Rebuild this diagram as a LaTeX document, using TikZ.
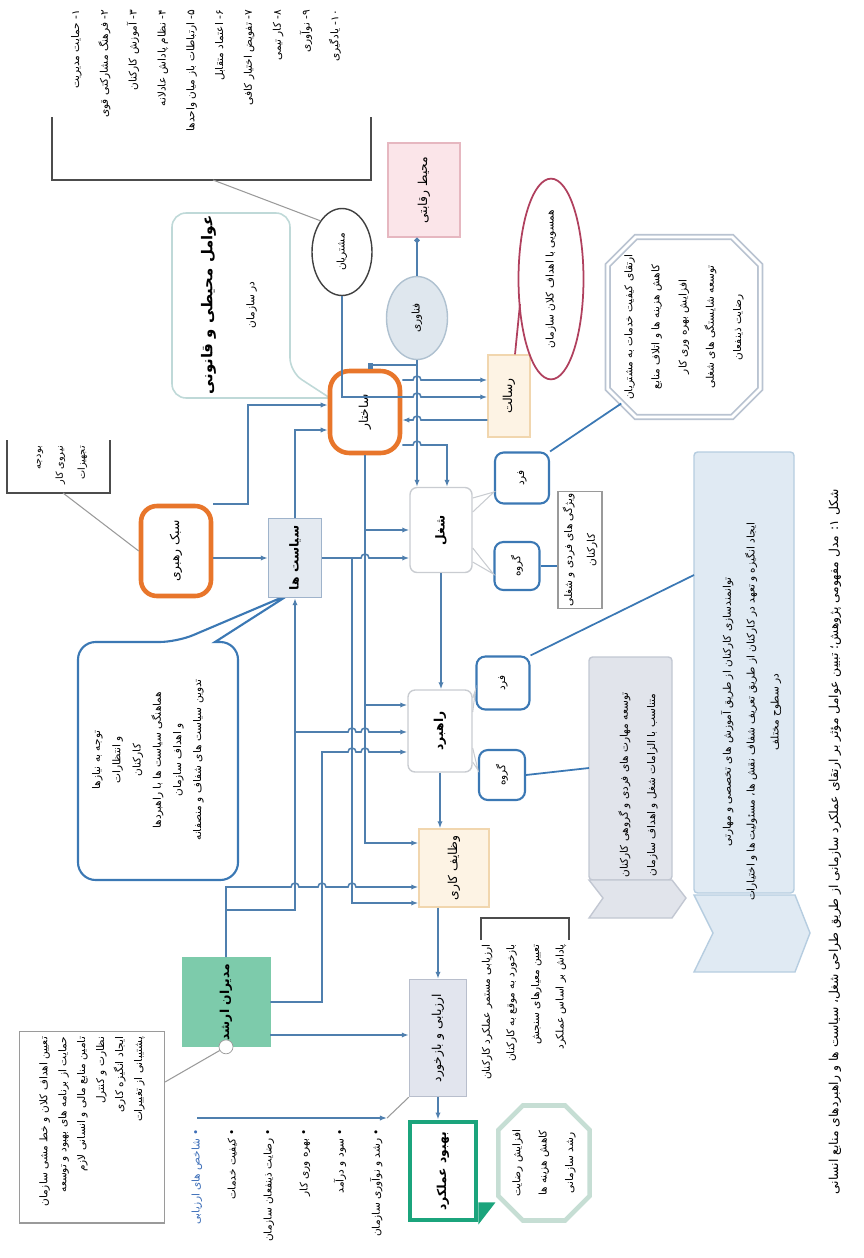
\documentclass[tikz,border=0pt]{standalone}
\usepackage{fontspec}
\newfontfamily\farsi[Script=Arabic]{DejaVu Sans}
\TeXXeTstate=1
\usetikzlibrary{arrows.meta,shapes.geometric,shapes.misc,calc}
\newcommand{\fa}[1]{\beginR #1\endR}

\definecolor{lineC}{HTML}{4F7FAE}
\definecolor{orangeC}{HTML}{E8762B}
\definecolor{sFill}{HTML}{E4EAF1}
\definecolor{sDraw}{HTML}{9FB3CB}
\definecolor{grayD}{HTML}{C9CCD1}
\definecolor{creamF}{HTML}{FDF3E4}
\definecolor{creamD}{HTML}{F1D6AE}
\definecolor{qFill}{HTML}{E2E5EE}
\definecolor{qDraw}{HTML}{B8BECC}
\definecolor{pinkF}{HTML}{FBE5E9}
\definecolor{pinkD}{HTML}{E6B7C0}
\definecolor{ellF}{HTML}{DFE7EE}
\definecolor{ellD}{HTML}{AFC1D0}
\definecolor{redD}{HTML}{B0405E}
\definecolor{octD}{HTML}{B9C3D1}
\definecolor{gD}{HTML}{3B78B4}
\definecolor{grF}{HTML}{7DCBAB}
\definecolor{finD}{HTML}{1BA47C}
\definecolor{ocD}{HTML}{C6DED4}
\definecolor{lbF}{HTML}{E0EAF3}
\definecolor{lbD}{HTML}{B6CDE0}
\definecolor{gbF}{HTML}{E1E4EB}
\definecolor{gbD}{HTML}{C2C7D2}
\definecolor{tcD}{HTML}{BFD9D8}
\definecolor{noteD}{HTML}{9A9A9A}
\definecolor{bulB}{HTML}{3E6FB8}

\begin{document}
\begin{tikzpicture}[x=0.02cm, y=-0.02cm,
    txt/.style={rotate=90, font=\farsi\fontsize{6}{8}\selectfont, align=center, inner sep=1pt},
    box/.style={txt, draw=#1, line width=0.8pt},
    big/.style={font=\farsi\bfseries\fontsize{7}{9}\selectfont},
    gbox/.style={box=gD, line width=1.2pt, rounded corners=5pt, fill=white},
    conn/.style={draw=lineC, line width=0.9pt},
    arr/.style={conn, -{Latex[length=4pt,width=3pt]}},
    rarr/.style={conn, {Latex[length=4pt,width=3pt]}-},
    lead/.style={draw=noteD, line width=0.6pt},
    hop/.style 2 args={insert path={-- (#1-4,#2) arc[start angle=180,end angle=360,radius=4]}}]

    % کادر
    \useasboundingbox (0,0) rectangle (864,1258);

    % فهرست بالا
    \draw[black!70, line width=0.7pt] (52,117) -- (52,180) -- (371,180) -- (371,117);
    \coordinate (br0) at (213,180);
    \node[txt, anchor=east, align=right, font=\farsi\fontsize{6}{16.4}\selectfont] (lst0) at (206,8)
        {\fa{۱- حمایت مدیریت}\\\fa{۲- فرهنگ مشارکتی قوی}\\\fa{۳- آموزش کارکنان}\\\fa{۴- نظام پاداش عادلانه}\\
         \fa{۵- ارتباطات باز میان واحدها}\\\fa{۶- اعتماد متقابل}\\\fa{۷- تفویض اختیار کافی}\\\fa{۸- کار تیمی}\\
         \fa{۹- نوآوری}\\\fa{۱۰- یادگیری}};

    % کادر توضیح بالا
    \draw[tcD, line width=0.9pt, fill=white, rounded corners=8pt] (172,300) -- (172,213) -- (290,213) -- (290,372)
        [sharp corners] -- (330,398) [rounded corners=8pt] -- (172,398) -- cycle;
    \node[txt] (tc) at (229,305) {{\bfseries\fontsize{8.5}{10}\selectfont\fa{عوامل محیطی و قانونی}}\\[16pt]\fa{در سازمان}};

    % فراخوان آبی
    \draw[gD, line width=1.2pt, fill=white, rounded corners=10pt] (78,760) -- (78,642) -- (177,642)
        [sharp corners] -- (290,594) -- (215,642) [rounded corners=10pt] -- (238,642) -- (238,880) -- (78,880) -- cycle;
    \node[txt, font=\farsi\fontsize{6}{11.5}\selectfont] (cbt) at (148,760)
        {\fa{توجه به نیازها}\\\fa{و انتظارات}\\\fa{کارکنان}\\\fa{هماهنگی سیاست ها با راهبردها}\\\fa{و اهداف سازمان}\\\fa{تدوین سیاست های شفاف و منصفانه}};

    % نوارهای سمت راست
    \draw[lbD, fill=lbF, line width=0.8pt, rounded corners=2pt] (694,893) -- (694,452) -- (794,452) -- (794,893) -- cycle;
    \draw[lbD, fill=lbF, line width=0.8pt] (694,895) -- (795,895) -- (810,933) -- (795,972) -- (694,972) -- (713,933) -- cycle;
    \draw[gbD, fill=gbF, line width=0.8pt, rounded corners=2pt] (589,880) -- (589,657) -- (672,657) -- (672,880) -- cycle;
    \draw[gbD, fill=gbF, line width=0.8pt] (589,880) -- (672,880) -- (686,898) -- (672,918) -- (589,918) -- (603,898) -- cycle;
    \coordinate (lbA) at (694,575);
    \coordinate (gbA) at (589,768);
    \node[txt, font=\farsi\fontsize{6}{13.6}\selectfont] (lbt) at (751,712)
        {\fa{توانمندسازی کارکنان از طریق آموزش های تخصصی و مهارتی}\\\fa{ایجاد انگیزه و تعهد در کارکنان از طریق تعریف شفاف نقش ها، مسئولیت ها و اختیارات}\\\fa{در سطوح مختلف}};
    \node[txt, font=\farsi\fontsize{6}{15.5}\selectfont] (gbt) at (638,785)
        {\fa{توسعه مهارت های فردی و گروهی کارکنان}\\\fa{متناسب با الزامات شغل و اهداف سازمان}};

    % عنوان شکل
    \node[txt, font=\farsi\fontsize{7}{9}\selectfont] (cap) at (835,842)
        {\fa{شکل ۱: مدل مفهومی پژوهش؛ تبیین عوامل مؤثر بر ارتقای عملکرد سازمانی از طریق طراحی شغل، سیاست ها و راهبردهای منابع انسانی}};

    % گره های اصلی
    \node[txt, ellipse, draw=black!75, line width=0.8pt, minimum width=1.74cm, minimum height=1.2cm] (E1) at (342,252) {\fa{مشتریان}};
    \node[box=pinkD, fill=pinkF, minimum width=1.88cm, minimum height=1.44cm, font=\farsi\fontsize{7}{9}\selectfont] (P) at (424,190) {\fa{محیط رقابتی}};
    \node[box=ellD, ellipse, fill=ellF, minimum width=1.66cm, minimum height=1.22cm] (C) at (417,318) {\fa{فناوری}};
    \node[box=orangeC, line width=2.6pt, rounded corners=11pt, fill=white, minimum width=1.64cm, minimum height=1.4cm, font=\farsi\fontsize{7}{9}\selectfont] (hub) at (365,412) {\fa{ساختار}};
    \node[box=creamD, fill=creamF, minimum width=1.64cm, minimum height=0.84cm, font=\farsi\fontsize{7}{9}\selectfont] (D) at (509,396) {\fa{رسالت}};
    \node[txt, ellipse, draw=redD, line width=1pt, minimum width=3.24cm, minimum height=1.3cm] (E2) at (551,279) {\fa{همسویی با اهداف کلان سازمان}};
    \node[txt, chamfered rectangle, chamfered rectangle sep=8pt, draw=octD, line width=1pt, double=white, double distance=1.6pt,
          minimum width=3.6cm, minimum height=3.05cm, font=\farsi\fontsize{6}{15.5}\selectfont] (F) at (684,327)
        {\fa{ارتقای کیفیت خدمات به مشتریان}\\\fa{کاهش هزینه ها و اتلاف منابع}\\\fa{افزایش بهره وری کار}\\\fa{توسعه شایستگی های شغلی}\\\fa{رضایت ذینفعان}};

    \node[box=orangeC, line width=2.6pt, rounded corners=9pt, fill=white, minimum width=1.8cm, minimum height=1.4cm, font=\farsi\fontsize{7}{9}\selectfont] (box2) at (176,551) {\fa{سبک رهبری}};
    \node[box=sDraw, fill=sFill, minimum width=1.58cm, minimum height=1.06cm, big] (S) at (295,558) {\fa{سیاست ها}};
    \node[box=grayD, rounded corners=4pt, fill=white, minimum width=1.7cm, minimum height=1.24cm, big] (J) at (441,530) {\fa{شغل}};
    \node[box=grayD, rounded corners=4pt, fill=white, minimum width=1.64cm, minimum height=1.28cm, big] (R) at (440,731) {\fa{راهبرد}};
    \node[box=creamD, fill=creamF, minimum width=1.56cm, minimum height=1.4cm, font=\farsi\fontsize{7}{9}\selectfont] (W) at (454,868) {\fa{وظایف کاری}};
    \node[box=qDraw, fill=qFill, minimum width=2.34cm, minimum height=1.14cm, font=\farsi\fontsize{7}{9}\selectfont] (Q) at (438,1038) {\fa{ارزیابی و بازخورد}};
    \node[box=finD, line width=2.8pt, fill=white, minimum width=1.96cm, minimum height=1.32cm, big] (FIN) at (443,1171) {\fa{بهبود عملکرد}};
    \fill[finD] ($(FIN.south west)+(0,-20)$) -- ++(17,0) -- ($(FIN.south west)+(0,2)$) -- cycle;
    \node[txt, chamfered rectangle, chamfered rectangle sep=7pt, draw=ocD, line width=2.6pt, fill=white,
          minimum width=2.3cm, minimum height=1.7cm, font=\farsi\fontsize{6}{15}\selectfont] (OC) at (544,1163)
        {\fa{افزایش رضایت}\\\fa{کاهش هزینه ها}\\\fa{رشد سازمانی}};

    % جعبه های کوچک
    \node[gbox, minimum width=1.02cm, minimum height=1.08cm] (G1) at (522,478) {\fa{فرد}};
    \node[gbox, minimum width=0.96cm, minimum height=0.9cm] (G2) at (517,566) {\fa{گروه}};
    \node[gbox, minimum width=1.06cm, minimum height=1.06cm] (G3) at (503,683) {\fa{فرد}};
    \node[gbox, minimum width=1.0cm, minimum height=0.92cm] (G4) at (502,775) {\fa{گروه}};
    \node[box=noteD, line width=0.6pt, minimum width=2.32cm, minimum height=0.88cm, font=\farsi\fontsize{6}{13}\selectfont] (TB) at (580,550)
        {\fa{ویژگی های فردی و شغلی}\\\fa{کارکنان}};

    % گره سبز و یادداشت
    \node[txt, draw=grF, fill=grF, minimum width=1.78cm, minimum height=1.76cm, font=\farsi\bfseries\fontsize{7}{9}\selectfont] (GR) at (226,1002) {\fa{مدیران ارشد}};
    \node[circle, draw=noteD, fill=white, inner sep=0pt, minimum size=0.28cm] (GRc) at (GR.west) {};
    \node[txt, draw=noteD, line width=0.6pt, align=right, inner sep=0.12cm, text width=3.6cm, minimum height=2.9cm,
          font=\farsi\fontsize{6}{10.8}\selectfont] (NB) at (92,1127)
        {\fa{تعیین اهداف کلان و خط مشی سازمان}\\\fa{حمایت از برنامه های بهبود و توسعه}\\\fa{تامین منابع مالی و انسانی لازم}\\
         \fa{نظارت و کنترل}\\\fa{ایجاد انگیزه کاری}\\\fa{پشتیبانی از تغییرات}};

    % فهرست پایین
    \coordinate (la) at (197,1118);
    \coordinate (lb) at (387,1118);
    \node[txt, anchor=east, align=right, font=\farsi\fontsize{6}{20.5}\selectfont] (bul) at (287,1127)
        {\textcolor{bulB}{\fa{• شاخص های ارزیابی}}\\\fa{• کیفیت خدمات}\\\fa{• رضایت ذینفعان سازمان}\\\fa{• بهره وری کار}\\\fa{• سود و درآمد}\\\fa{• رشد و نوآوری سازمان}};

    % کروشه پایین
    \draw[black!70, line width=0.7pt] (481,940) -- (481,918) -- (569,918) -- (569,940);
    \node[txt, anchor=east, align=right, font=\farsi\fontsize{6}{14}\selectfont] (lst2) at (524,942)
        {\fa{ارزیابی مستمر عملکرد کارکنان}\\\fa{بازخورد به موقع به کارکنان}\\\fa{تعیین معیارهای سنجش}\\\fa{پاداش بر اساس عملکرد}};

    % کروشه چپ
    \draw[black!70, line width=0.7pt] (7,440) -- (7,493) -- (110,493) -- (110,440);
    \coordinate (br1) at (63,493);
    \node[txt, anchor=east, align=right, font=\farsi\fontsize{5.5}{12.5}\selectfont] (lst1) at (62,444)
        {\fa{بودجه}\\\fa{نیروی کار}\\\fa{تجهیزات}};

    % خطوط راهنما
    \draw[lead] (br0) -- (E1.north east);
    \draw[lead] (br1) -- (box2.north);
    \draw[lead] (GRc) -- (NB.south |- 0,1082);
    \draw[lead] (Q.north west) -- (lb);
    \draw[arr] (la) -- (lb);
    \draw[redD, line width=1pt] ($(D.east)+(6,0)$) -- ($(E2.center)+(-31,25)$);
    \draw[grayD, line width=0.6pt] (J.south |- 0,498) -- (G1.north |- 0,492) -- (J.south |- 0,512);
    \draw[grayD, line width=0.6pt] (J.south |- 0,548) -- (G2.north |- 0,574) -- (J.south |- 0,562);
    \draw[grayD, line width=0.6pt] (R.south |- 0,698) -- (G3.north |- 0,690) -- (R.south |- 0,712);
    \draw[grayD, line width=0.6pt] (R.south |- 0,748) -- (G4.north |- 0,770) -- (R.south |- 0,762);
    \draw[gD, line width=1pt] (G1.south east) -- (F.north west);
    \draw[gD, line width=1pt] (G2.south) -- (TB.north |- G2.south);
    \draw[gD, line width=1pt] (G3.south east) -- (lbA);
    \draw[gD, line width=1pt] (G4.south) -- (gbA);

    % اتصال ها بالا
    \draw[conn, -{Circle[length=3pt]}] (C.east) -- (C.east |- P.west);
    \draw[conn, -{Square[length=3pt,width=3pt]}] (C.west) -- ++(0,5) -| ([xshift=3pt]hub.east);
    \draw[arr] (C.west) -- (C.west |- J.east);
    \draw[arr] (E1.west) -- (E1.west |- 0,397) [hop={417}{397}] -- (D.north |- 0,397);
    \draw[arr] (hub.south |- 0,380) [hop={417}{380}] -- (D.north |- 0,380);
    \draw[rarr] (hub.south |- 0,420) [hop={417}{420}] -- (D.north |- 0,420);
    \draw[arr] (hub.south |- 0,445) [hop={417}{445}] -| ($(J.east)+(6,0)$);
    \draw[arr] (box2.south east) -- ++(35,0) |- (hub.north |- 0,405);
    \draw[arr] (box2.south |- S.north) -- (S.north);
    \draw[arr] (S.east) |- (hub.north |- 0,430);

    % خطوط عمودی
    \draw[arr] (S.south) [hop={365}{558}] -- (J.north |- S.south);
    \draw[arr] (S.south -| 352,0) -- (352,903) -- (W.north |- 0,903);
    \draw[arr] (hub.west) -- (hub.west |- 0,843) -- (W.north |- 0,843);
    \draw[arr] (hub.west |- J.north) -- (J.north);
    \draw[arr] (hub.west |- 0,705) -- (R.north |- 0,705);
    \draw[arr] (GR.east |- 0,910) -| (S.west);
    \draw[arr] (S.west |- 0,732) [hop={352}{732}] [hop={365}{732}] -- (R.north |- 0,732);
    \draw[arr] (GR.south) -- (GR.south -| 322,0) -- (322,752) [hop={352}{752}] [hop={365}{752}] -- (R.north |- 0,752);
    \draw[arr] (GR.east) -- (GR.east |- 0,887) [hop={295}{887}] [hop={322}{887}] [hop={352}{887}] -- (W.north |- 0,887);
    \draw[arr] (GR.south |- 0,1035) -- (Q.north |- 0,1035);

    % جریان اصلی
    \draw[arr] (J.west) -- (J.west |- R.east);
    \draw[arr] (R.west) -- (R.west |- W.east);
    \draw[arr] (Q.east |- W.west) -- (Q.east);
    \draw[arr] (Q.west) -- (Q.west |- FIN.east);
\end{tikzpicture}
\end{document}
